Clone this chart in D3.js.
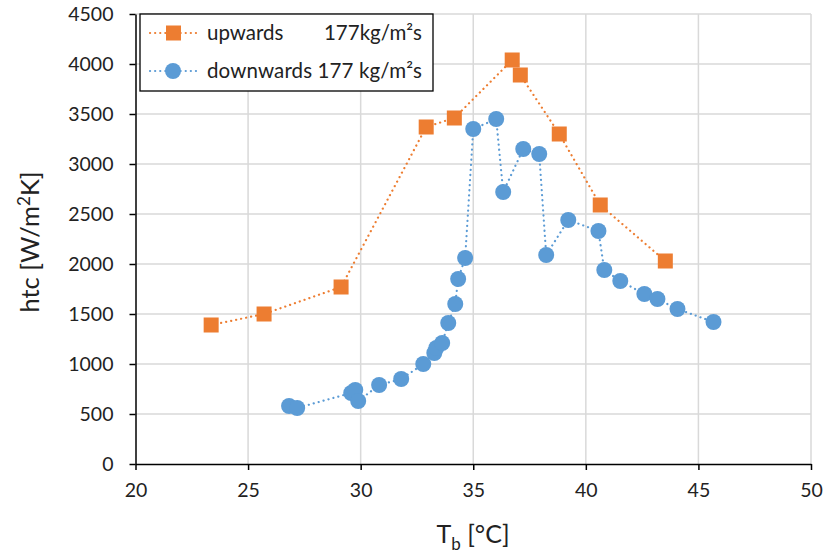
<!DOCTYPE html>
<html><head><meta charset="utf-8">
<script src="https://cdn.jsdelivr.net/npm/d3@7"></script>
<style>body{margin:0;background:#fff}svg{display:block}text{font-family:Lato,"Open Sans",sans-serif;fill:#222}</style>
</head><body><svg id="c" width="826" height="559"></svg>
<script>
const upX = [23.36, 25.71, 29.13, 32.91, 34.16, 36.73, 37.09, 38.82, 40.64, 43.53];
const upY = [1390, 1500, 1770, 3370, 3460, 4040, 3890, 3300, 2590, 2030];
const downX = [26.82, 27.18, 29.58, 29.76, 29.89, 30.82, 31.80, 32.78, 33.27, 33.36, 33.62, 33.89, 34.2, 34.33, 34.64, 35.0, 36.02, 36.33, 37.22, 37.93, 38.24, 39.22, 40.56, 40.82, 41.53, 42.6, 43.18, 44.07, 45.67];
const downY = [580, 560, 710, 740, 630, 790, 850, 1000, 1110, 1160, 1210, 1410, 1600, 1850, 2060, 3350, 3450, 2720, 3150, 3100, 2090, 2440, 2330, 1940, 1830, 1700, 1650, 1550, 1420];
const xTicks = [20, 25, 30, 35, 40, 45, 50];
const yTicks = [0, 500, 1000, 1500, 2000, 2500, 3000, 3500, 4000, 4500];
const legendUp = ["upwards", "177kg/m²s"];
const legendDown = "downwards 177 kg/m²s";

const orange = "#ED7D31", blue = "#5B9BD5";
const svg = d3.select("#c");
const L = 135.5, R = 811, T = 14, B = 464;
const x = d3.scaleLinear().domain([20, 50]).range([L, R]);
const y = d3.scaleLinear().domain([0, 4500]).range([B, T]);

// grid
svg.append("g").selectAll("line").data(xTicks.slice(1)).join("line")
  .attr("x1", d => x(d)).attr("x2", d => x(d)).attr("y1", T).attr("y2", B)
  .attr("stroke", "#d9d9d9").attr("stroke-width", 1.5);
svg.append("g").selectAll("line").data(yTicks.slice(1)).join("line")
  .attr("x1", L).attr("x2", R).attr("y1", d => y(d)).attr("y2", d => y(d))
  .attr("stroke", "#d9d9d9").attr("stroke-width", 1.5);

// axes
const fmt = d3.format("d");
const xa = svg.append("g").attr("transform", `translate(0,${B})`)
  .call(d3.axisBottom(x).tickValues(xTicks).tickFormat(fmt).tickSize(6).tickPadding(13).tickSizeOuter(0));
const ya = svg.append("g").attr("transform", `translate(${L},0)`)
  .call(d3.axisLeft(y).tickValues(yTicks).tickFormat(fmt).tickSize(6).tickPadding(16).tickSizeOuter(0));
[xa, ya].forEach(a => {
  a.select(".domain").attr("stroke", "#000").attr("stroke-width", 1.5);
  a.selectAll(".tick line").attr("stroke", "#000").attr("stroke-width", 1.5);
  a.selectAll(".tick text").style("font-size", "19.5px").style("font-family", "Lato,'Open Sans',sans-serif").attr("fill", "#222");
});

// lines
const line = d3.line().x(d => x(d[0])).y(d => y(d[1]));
const upData = upX.map((v, i) => [v, upY[i]]);
const downData = downX.map((v, i) => [v, downY[i]]);
svg.append("path").datum(upData).attr("d", line).attr("fill", "none")
  .attr("stroke", orange).attr("stroke-width", 2.2).attr("stroke-dasharray", "0.1 5").attr("stroke-linecap", "round");
svg.append("path").datum(downData).attr("d", line).attr("fill", "none")
  .attr("stroke", blue).attr("stroke-width", 2.2).attr("stroke-dasharray", "0.1 5").attr("stroke-linecap", "round");

// markers
svg.append("g").selectAll("rect").data(upData).join("rect")
  .attr("x", d => x(d[0]) - 7.5).attr("y", d => y(d[1]) - 7.5)
  .attr("width", 15).attr("height", 15).attr("fill", orange);
svg.append("g").selectAll("circle").data(downData).join("circle")
  .attr("cx", d => x(d[0])).attr("cy", d => y(d[1])).attr("r", 8).attr("fill", blue);

// legend
const lg = svg.append("g");
lg.append("rect").attr("x", 140).attr("y", 14).attr("width", 293).attr("height", 77)
  .attr("fill", "#fff").attr("stroke", "#000").attr("stroke-width", 1.3);
[[33, orange, "sq"], [71, blue, "ci"]].forEach(([yy, c, m]) => {
  lg.append("line").attr("x1", 150).attr("x2", 196).attr("y1", yy).attr("y2", yy)
    .attr("stroke", c).attr("stroke-width", 2.2).attr("stroke-dasharray", "0.1 5").attr("stroke-linecap", "round");
  if (m === "sq") lg.append("rect").attr("x", 166).attr("y", yy - 7.5).attr("width", 15).attr("height", 15).attr("fill", c);
  else lg.append("circle").attr("cx", 173).attr("cy", yy).attr("r", 8).attr("fill", c);
});
lg.append("text").attr("x", 207).attr("y", 40).style("font-size", "20.5px").text(legendUp[0]);
lg.append("text").attr("x", 422).attr("y", 40).attr("text-anchor", "end").style("font-size", "20.5px").text(legendUp[1]);
lg.append("text").attr("x", 207).attr("y", 78).attr("textLength", 215).style("font-size", "20.5px").text(legendDown);

// axis titles
const xt = svg.append("text").attr("x", 473).attr("y", 543).attr("text-anchor", "middle").style("font-size", "25px");
xt.append("tspan").text("T");
xt.append("tspan").attr("dy", 7).style("font-size", "17px").text("b");
xt.append("tspan").attr("dy", -7).text(" [°C]");
const yt = svg.append("text").attr("transform", "translate(39,242) rotate(-90)").attr("text-anchor", "middle").style("font-size", "25.5px");
yt.append("tspan").text("htc [W/m");
yt.append("tspan").attr("dy", -9).style("font-size", "17px").text("2");
yt.append("tspan").attr("dy", 9).text("K]");
</script></body></html>
